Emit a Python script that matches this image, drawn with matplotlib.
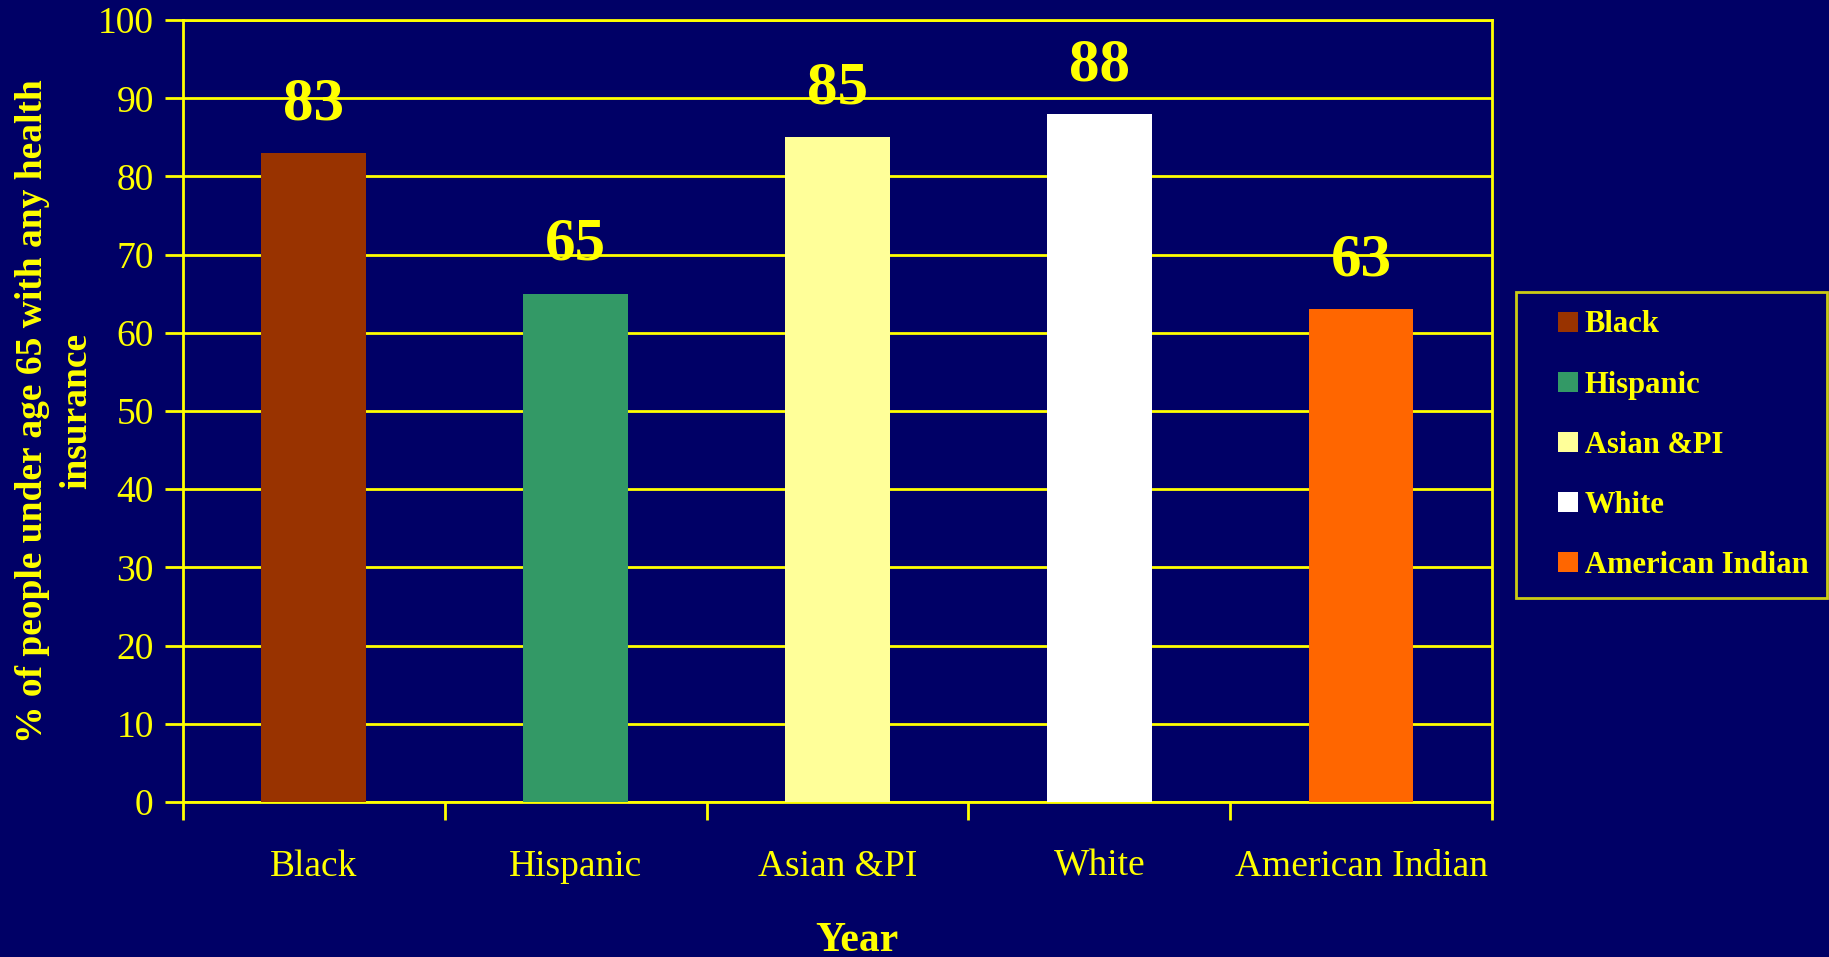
import matplotlib
matplotlib.use("Agg")
import matplotlib.pyplot as plt
from matplotlib.lines import Line2D
import numpy as np

groups = ["Black", "Hispanic", "Asian &PI", "White", "American Indian"]
insured = [83, 65, 85, 88, 63]
colors = ["#993300", "#339966", "#FFFF99", "#FFFFFF", "#FF6600"]

bg = "#000066"
yel = "#FFFF00"

plt.rcParams['font.family'] = ['Liberation Serif', 'DejaVu Serif']

fig = plt.figure(figsize=(18.29, 9.57), dpi=100, facecolor=bg)
ax = fig.add_axes([0.1, 0.162, 0.7157, 0.817])
ax.set_facecolor(bg)

x = np.arange(len(groups))
ax.bar(x, insured, width=0.4, color=colors, zorder=3)

for xi, v in zip(x, insured):
    ax.annotate(str(v), (xi, v), xytext=(0, 15), textcoords='offset points',
                ha='center', va='bottom', fontsize=44, fontweight='bold', color=yel)

ax.set_xlim(-0.5, len(groups) - 0.5)
ax.set_ylim(0, 100)
ax.set_yticks(range(0, 101, 10))
ax.yaxis.grid(True, color=yel, linewidth=2, zorder=1)
ax.set_axisbelow(True)

# ticks on the category boundaries, labels under the bars
ax.set_xticks(np.arange(-0.5, len(groups), 1.0))
ax.set_xticklabels([])
ax.set_xticks(x, minor=True)
ax.set_xticklabels(groups, minor=True)
ax.tick_params(axis='x', which='major', length=13, width=2, color=yel)
ax.tick_params(axis='x', which='minor', length=0, pad=34, labelsize=27, labelcolor=yel)
ax.tick_params(axis='y', length=13, width=2, color=yel, labelsize=27, labelcolor=yel, pad=8)

for s in ax.spines.values():
    s.set_color(yel)
    s.set_linewidth(2)

ax.set_ylabel("% of people under age 65 with any health\ninsurance", fontsize=27,
              fontweight='bold', color=yel, linespacing=1.34)
ax.yaxis.set_label_coords(-0.068, 0.5)
ax.set_xlabel("Year", fontsize=30, fontweight='bold', color=yel)
ax.xaxis.set_label_coords(0.515, -0.153)

handles = [Line2D([], [], linestyle='none', marker='s', markersize=14,
                  markerfacecolor=c, markeredgewidth=0) for c in colors]
leg = fig.legend(handles, groups, loc='upper left',
                 bbox_to_anchor=(1516 / 1829, 1 - 292 / 957), borderaxespad=0,
                 frameon=True, fancybox=False, facecolor=bg, edgecolor=yel,
                 prop={'size': 22, 'weight': 'bold'}, labelcolor=yel,
                 borderpad=0.6, handlelength=2.2, handletextpad=-0.55,
                 labelspacing=1.02, numpoints=1)
leg.get_frame().set_linewidth(2)

fig.savefig("out.png", dpi=100, facecolor=bg)
